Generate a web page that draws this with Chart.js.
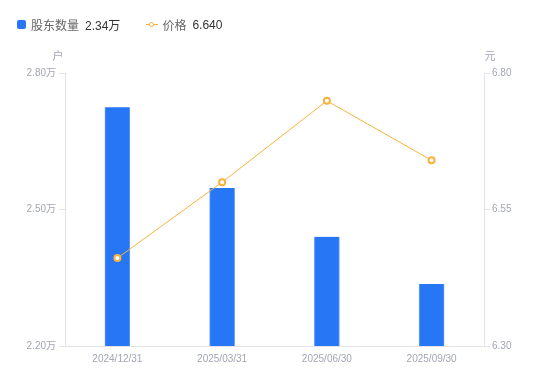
<!DOCTYPE html>
<html>
<head>
<meta charset="utf-8">
<script src="https://cdn.jsdelivr.net/npm/chart.js@4"></script>
<style>
  html, body { margin: 0; padding: 0; background: #fff; }
  #wrap { position: relative; width: 550px; height: 381px; }
  #legend {
    position: absolute; left: 17px; top: 16px;
    font: 12px "Liberation Sans", "Noto Sans CJK SC", sans-serif;
    color: #666; display: flex; align-items: center; white-space: nowrap;
  }
  #legend .item { display: flex; align-items: center; margin-right: 26px; }
  #legend .box { width: 9px; height: 9px; border-radius: 2px; background: #2776f6; margin-right: 5px; }
  #legend .val { color: #333; margin-left: 6px; }
  #legend .lineIcon { position: relative; width: 12px; height: 9px; margin-right: 4px; }
  #legend .lineIcon:before {
    content: ""; position: absolute; left: 0; right: 0; top: 4px; height: 1px; background: #f8b23c;
  }
  #legend .lineIcon:after {
    content: ""; position: absolute; left: 3px; top: 1.5px; width: 3px; height: 3px;
    border: 1.5px solid #f8b23c; border-radius: 50%; background: #fff;
  }
</style>
</head>
<body>
<div id="wrap">
  <canvas id="chart" width="550" height="381"></canvas>
  <div id="legend"></div>
</div>
<script>
/* 股东户数 + 股价 双轴图 */

const categories = ['2024/12/31', '2025/03/31', '2025/06/30', '2025/09/30'];
const holders = [2.725, 2.547, 2.44, 2.336];     // 万户
const prices = [6.461, 6.60, 6.749, 6.640];       // 元
const leftTicks = [2.20, 2.50, 2.80];
const rightTicks = [6.30, 6.55, 6.80];

const legendItems = [
  { name: '股东数量', value: '2.34万', icon: 'box' },
  { name: '价格', value: '6.640', icon: 'lineIcon' }
];

const BLUE = '#2776f6';
const ORANGE = '#f8b23c';
const TICK_COLOR = '#a3a6b4';
const AXIS_COLOR = '#e3e3e8';
const FONT = '"Liberation Sans", "Noto Sans CJK SC", sans-serif';

document.getElementById('legend').innerHTML = legendItems.map(it =>
  `<span class="item"><span class="${it.icon}"></span>${it.name}<span class="val">${it.value}</span></span>`
).join('');

// axis unit labels above each y axis
const axisTitles = {
  id: 'axisTitles',
  afterDraw(chart) {
    const { ctx, chartArea } = chart;
    ctx.save();
    ctx.font = '11px ' + FONT;
    ctx.fillStyle = TICK_COLOR;
    ctx.textBaseline = 'middle';
    ctx.textAlign = 'center';
    ctx.fillText('户', chartArea.left - 7, chartArea.top - 16);
    ctx.fillText('元', chartArea.right + 6, chartArea.top - 16);
    ctx.restore();
  }
};

const fixTicks = values => scale => {
  scale.ticks = values.map(v => ({ value: v }));
};

new Chart(document.getElementById('chart'), {
  type: 'bar',
  data: {
    labels: categories,
    datasets: [
      {
        type: 'line',
        label: '价格',
        data: prices,
        yAxisID: 'y1',
        borderColor: ORANGE,
        borderWidth: 1,
        backgroundColor: '#fff',
        pointBorderColor: ORANGE,
        pointBackgroundColor: '#fff',
        pointBorderWidth: 2,
        pointRadius: 3,
        tension: 0,
        order: 0
      },
      {
        type: 'bar',
        label: '股东数量',
        data: holders,
        yAxisID: 'y',
        backgroundColor: BLUE,
        borderColor: '#5f9af8',
        borderWidth: { left: 1, right: 1, top: 0, bottom: 0 },
        barThickness: 25,
        order: 1
      }
    ]
  },
  options: {
    responsive: false,
    animation: false,
    layout: { padding: { top: 73, left: 0, right: 0, bottom: 0 } },
    plugins: {
      legend: { display: false },
      tooltip: { enabled: false }
    },
    scales: {
      x: {
        offset: true,
        grid: { display: false, drawTicks: false },
        border: { color: AXIS_COLOR, width: 1 },
        ticks: { color: TICK_COLOR, font: { size: 10, family: FONT }, padding: 7, maxRotation: 0 },
        afterFit: s => { s.height = 35; }
      },
      y: {
        position: 'left',
        min: 2.2,
        max: 2.8,
        afterBuildTicks: fixTicks(leftTicks),
        grid: { display: true, drawOnChartArea: false, drawTicks: true, tickLength: 6, color: AXIS_COLOR },
        border: { color: AXIS_COLOR, width: 1 },
        ticks: {
          color: TICK_COLOR,
          font: { size: 10, family: FONT },
          padding: 3,
          callback: v => v.toFixed(2) + '万'
        },
        afterFit: s => { s.width = 65; }
      },
      y1: {
        position: 'right',
        min: 6.3,
        max: 6.8,
        afterBuildTicks: fixTicks(rightTicks),
        grid: { display: true, drawOnChartArea: false, drawTicks: true, tickLength: 6, color: AXIS_COLOR },
        border: { color: AXIS_COLOR, width: 1 },
        ticks: {
          color: TICK_COLOR,
          font: { size: 10, family: FONT },
          padding: 2,
          callback: v => v.toFixed(2)
        },
        afterFit: s => { s.width = 66; }
      }
    }
  },
  plugins: [axisTitles]
});
</script>
</body>
</html>
